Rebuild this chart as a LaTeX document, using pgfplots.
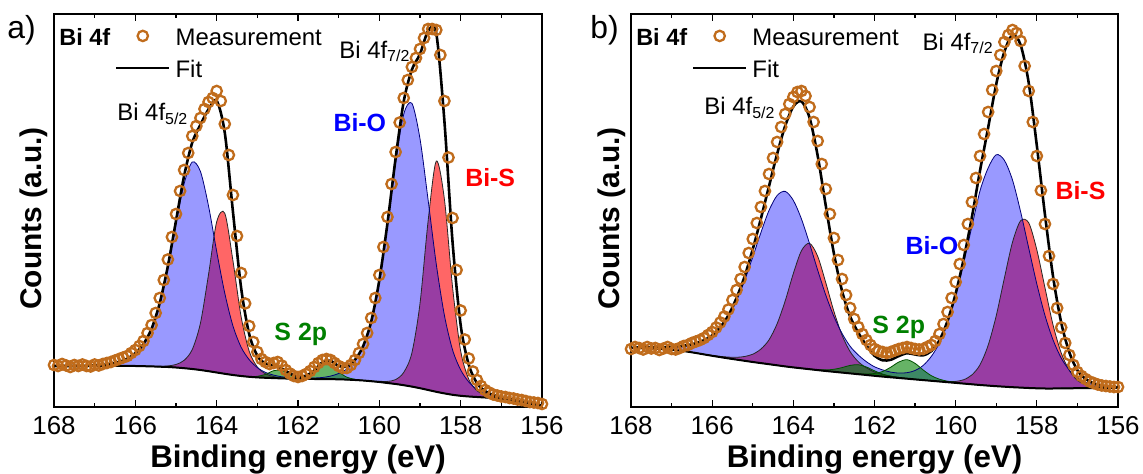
\documentclass[border=0pt]{standalone}
\usepackage{fontspec}
\setmainfont{Liberation Sans}
\usepackage{pgfplots}
\usepackage{pgfplotstable}
\pgfplotsset{compat=1.18}
\usepgfplotslibrary{fillbetween}

\definecolor{meascol}{RGB}{192,108,28}
\definecolor{bio}{RGB}{0,0,255}
\definecolor{bioedge}{RGB}{0,0,120}
\definecolor{bis}{RGB}{255,0,0}
\definecolor{stwo}{RGB}{0,128,0}
\definecolor{stwoedge}{RGB}{0,80,0}

% Sample a: background, components (each stacked on the background) and fit envelope
\pgfplotstableread{
E bg O S P1 P3 fit
168.0 41 41 41 41 41 41
167.8 41 41 41 41 41 41
167.6 41 41 41 41 41 41
167.4 41 41 41 41 41 41
167.2 41 41 41 41 41 41
167.0 41 41.8 41 41 41 41.8
166.8 41 42.1 41 41 41 42.1
166.6 41 43.3 41 41 41 43.3
166.4 41 45.1 41 41 41 45.1
166.2 41 48.3 41 41 41 48.3
166.0 41 53.9 41 41 41 53.9
165.8 40.8 63.1 40.8 40.8 40.8 63.1
165.6 40.6 78.2 40.7 40.6 40.6 78.3
165.4 40.3 103.7 40.6 40.3 40.3 104.0
165.2 40.0 139.8 41.1 40.0 40.0 140.9
165.0 39.5 183.2 42.5 39.5 39.5 186.2
164.8 38.8 223.3 46.7 38.8 38.8 231.2
164.6 38.0 245.0 57.5 38.0 38.0 264.5
164.4 37.0 235.6 83.7 37.0 37.0 282.3
164.2 35.8 201.0 132.5 35.8 35.8 297.7
164.0 34.5 155.6 185.1 34.5 34.5 306.2
163.8 33.2 113.7 193.7 33.2 33.2 274.2
163.6 32.0 81.1 146.3 32.0 32.0 195.4
163.4 31.0 59.9 90.6 31.0 31.0 119.5
163.2 30.2 47.3 55.8 30.2 30.2 72.9
163.0 29.6 39.4 40.0 30.7 29.6 51.3
162.8 29.2 34.6 33.2 32.6 29.2 43.4
162.6 28.9 31.9 30.4 36.3 28.9 41.8
162.4 28.6 30.2 29.0 36.6 28.6 38.6
162.2 28.4 29.4 28.4 32.6 28.4 33.6
162.0 28.2 28.7 28.2 29.6 28.2 30.1
161.8 28.1 28.6 28.1 28.5 30.5 31.4
161.6 28.0 29.0 28.0 28.0 35.5 36.5
161.4 27.9 29.5 27.9 27.9 43.2 44.8
161.2 27.8 30.9 27.8 27.8 43.1 46.2
161.0 27.7 33.5 27.7 27.7 35.2 41.0
160.8 27.4 37.9 27.4 27.4 29.8 40.3
160.6 27.0 46.4 27.0 27.0 27.7 47.1
160.4 26.5 60.7 26.5 26.5 26.5 60.7
160.2 25.8 85.4 25.8 25.8 25.8 85.4
160.0 25.0 126.2 25.7 25.0 25.0 126.9
159.8 24.0 182.2 25.6 24.0 24.0 183.8
159.6 23.0 244.2 27.4 23.0 23.0 248.6
159.4 21.8 292.8 34.6 21.8 21.8 305.6
159.2 20.4 303.7 54.0 20.4 20.4 337.3
159.0 18.8 268.2 103.5 18.8 18.8 352.9
158.8 17.0 206.8 186.2 17.0 17.0 376.0
158.6 15.2 142.9 245.9 15.2 15.2 373.6
158.4 13.6 91.7 207.8 13.6 13.6 285.9
158.2 12.2 57.2 120.1 12.2 12.2 165.1
158.0 11.2 37.1 56.0 11.2 11.2 81.9
157.8 10.5 25.0 27.7 10.5 10.5 42.2
157.6 10.0 17.7 16.3 10.0 10.0 24.0
157.4 9.5 13.8 11.6 9.5 9.5 15.9
157.2 9.0 11.2 9.8 9.0 9.0 12.0
157.0 8.3 9.6 8.3 8.3 8.3 9.6
156.8 7.3 7.9 7.3 7.3 7.3 7.9
156.6 6.0 6.3 6.0 6.0 6.0 6.3
156.4 4.6 4.6 4.6 4.6 4.6 4.6
156.2 3.0 3.0 3.0 3.0 3.0 3.0
156.0 1.5 1.5 1.5 1.5 1.5 1.5
}\fitA

\pgfplotstableread{
E meas
168.0 42
167.9 41
167.8 43
167.7 41.5
167.6 40
167.5 42
167.4 41
167.3 42.5
167.2 41
167.1 40.5
167.0 42.5
166.9 41.5
166.8 43
166.7 44
166.6 45
166.5 46.5
166.4 48
166.3 49.5
166.2 51
166.1 54
166.0 57
165.9 61
165.8 66
165.7 74
165.6 82
165.5 94
165.4 109
165.3 127
165.2 147.5
165.1 170
165.0 193
164.9 216
164.8 237
164.7 254
164.6 271
164.5 281
164.4 289
164.3 298
164.2 305
164.1 309
164.0 316
163.9 306
163.8 283
163.7 252
163.6 212
163.5 171
163.4 134
163.3 103.5
163.2 81
163.1 65
163.0 55
162.9 48
162.8 45
162.7 43
162.6 44
162.5 45
162.4 41.5
162.3 37
162.2 33.5
162.1 31
162.0 30
161.9 31
161.8 33
161.7 36
161.6 40
161.5 44
161.4 47
161.3 48
161.2 47
161.1 44
161.0 41
160.9 39
160.8 39
160.7 42
160.6 47
160.5 54
160.4 63
160.3 74
160.2 89
160.1 109
160.0 132
159.9 160
159.8 190
159.7 223
159.6 255
159.5 284.5
159.4 309
159.3 327
159.2 340
159.1 349
159.0 358
158.9 369
158.8 378
158.7 378
158.6 377
158.5 352
158.4 306
158.3 249.5
158.2 189
158.1 137
158.0 96.5
157.9 67.5
157.8 48.5
157.7 35.5
157.6 27
157.5 21
157.4 17
157.3 14.5
157.2 12.5
157.1 11.5
157.0 10.5
156.9 10
156.8 9
156.7 8.5
156.6 7.5
156.5 7
156.4 6
156.3 5
156.2 4.5
156.1 4
156.0 3
}\measA

% Sample b
\pgfplotstableread{
E bg O S P1 P3 fit
168.0 59 59 59 59 59 59
167.8 59 59.6 59 59 59 59.6
167.6 58.7 59.6 58.7 58.7 58.7 59.6
167.4 58.3 59.6 58.3 58.3 58.3 59.6
167.2 57.8 59.8 57.8 57.8 57.8 59.8
167.0 57.2 60.2 57.2 57.2 57.2 60.2
166.8 56.4 60.8 56.4 56.4 56.4 60.8
166.6 55.3 61.8 55.3 55.3 55.3 61.8
166.4 54.0 63.8 54.0 54.0 54.0 63.8
166.2 52.6 66.8 52.6 52.6 52.6 66.8
166.0 51.2 71.2 51.6 51.2 51.2 71.6
165.8 49.9 79.1 50.6 49.9 49.9 79.8
165.6 48.6 90.4 49.9 48.6 48.6 91.7
165.4 47.4 106.7 49.7 47.4 47.4 109.0
165.2 46.2 126.4 50.5 46.2 46.2 130.7
165.0 45.0 150.0 52.8 45.0 45.0 157.8
164.8 43.9 174.3 57.9 43.9 43.9 188.3
164.6 42.8 196.5 67.1 42.8 42.8 220.8
164.4 41.7 211.5 83.2 41.7 41.7 253.0
164.2 40.6 215.6 106.2 40.6 40.6 281.2
164.0 39.6 206.6 133.5 39.6 39.6 300.5
163.8 38.7 188.0 156.3 38.7 38.7 305.6
163.6 37.8 163.3 163.7 37.8 37.8 289.2
163.4 36.9 136.8 150.7 37.4 36.9 251.2
163.2 36.0 111.8 124.2 37.1 36.0 201.1
163.0 35.2 90.5 95.6 37.7 35.2 153.4
162.8 34.4 73.6 71.8 39.4 34.4 116.0
162.6 33.6 60.7 55.3 41.6 33.6 90.4
162.4 32.8 52.0 45.3 42.3 33.2 74.4
162.2 32.0 45.3 39.2 40.0 33.0 61.5
162.0 31.2 40.2 35.0 36.2 33.5 51.3
161.8 30.4 37.1 32.4 32.9 35.5 46.7
161.6 29.7 34.9 30.8 30.8 39.8 47.2
161.4 29.0 33.9 29.6 29.5 45.0 51.0
161.2 28.3 34.3 28.6 28.5 47.3 53.8
161.0 27.6 36.5 27.6 27.6 43.6 52.5
160.8 26.9 41.6 26.9 26.9 37.0 51.7
160.6 26.2 50.6 26.4 26.2 31.3 55.9
160.4 25.5 64.0 25.8 25.5 27.8 66.6
160.2 24.8 84.4 25.5 24.8 25.8 86.1
160.0 24.1 111.6 25.6 24.1 24.5 113.5
159.8 23.4 144.7 27.3 23.4 23.4 148.6
159.6 22.7 180.5 32.1 22.7 22.7 189.9
159.4 22.0 216.2 42.2 22.0 22.0 236.4
159.2 21.4 239.0 61.7 21.4 21.4 279.3
159.0 20.8 252.3 91.4 20.8 20.8 322.9
158.8 20.3 246.7 128.9 20.3 20.3 355.3
158.6 19.8 227.0 164.8 19.8 19.8 372.0
158.4 19.4 195.3 186.2 19.4 19.4 362.1
158.2 19.0 158.9 184.2 19.0 19.0 324.1
158.0 18.7 122.9 157.1 18.7 18.7 261.3
157.8 18.5 91.6 119.3 18.5 18.5 192.4
157.6 18.5 67.0 81.9 18.5 18.5 130.4
157.4 18.6 49.0 54.1 18.6 18.6 84.5
157.2 18.7 36.8 36.6 18.7 18.7 54.7
157.0 18.8 29.0 26.5 18.8 18.8 36.7
156.8 18.9 24.7 22.3 18.9 18.9 28.1
156.6 19.0 22.2 20.4 19.0 19.0 23.6
156.4 19.1 20.7 19.6 19.1 19.1 21.2
156.2 19.2 20.1 19.2 19.2 19.2 20.1
156.0 19.3 19.7 19.3 19.3 19.3 19.7
}\fitB

\pgfplotstableread{
E meas
168.0 58
167.9 60
167.8 59
167.7 57.5
167.6 60
167.5 58.5
167.4 59
167.3 57
167.2 58.5
167.1 60
167.0 58
166.9 57.5
166.8 59
166.7 61
166.6 62
166.5 64
166.4 65.5
166.3 67
166.2 69
166.1 72
166.0 75
165.9 79.5
165.8 84.5
165.7 90.5
165.6 97.5
165.5 107
165.4 117
165.3 128
165.2 140
165.1 154
165.0 168
164.9 184
164.8 200
164.7 216
164.6 233
164.5 249
164.4 265
164.3 280
164.2 293
164.1 303
164.0 310
163.9 315
163.8 316
163.7 311
163.6 300
163.5 285
163.4 266
163.3 243
163.2 218
163.1 193
163.0 169
162.9 147
162.8 128
162.7 112
162.6 99
162.5 88
162.4 80
162.3 73
162.2 67
162.1 62
162.0 58
161.9 56
161.8 55
161.7 54
161.6 55
161.5 56.5
161.4 58
161.3 59
161.2 60
161.1 59
161.0 58
160.9 57.5
160.8 58
160.7 60
160.6 62
160.5 66
160.4 73
160.3 83
160.2 95
160.1 109
160.0 125
159.9 143
159.8 162
159.7 183
159.6 205
159.5 229
159.4 251
159.3 273
159.2 295
159.1 317
159.0 336
158.9 352
158.8 365
158.7 372
158.6 377
158.5 374
158.4 366
158.3 341
158.2 316
158.1 285
158.0 251
157.9 216.5
157.8 183
157.7 151
157.6 123
157.5 99
157.4 79.5
157.3 64
157.2 52
157.1 42
157.0 35
156.9 31
156.8 28
156.7 25.5
156.6 24
156.5 22.5
156.4 21.5
156.3 21
156.2 20.5
156.1 20
156.0 20
}\measB

\pgfplotsset{
  xps/.style={
    scale only axis, height=196.5bp, anchor=south west,
    x dir=reverse, xmin=156, xmax=168, ymin=0, ymax=393,
    xtick={156,158,160,162,164,166,168}, minor x tick num=1,
    ytick=\empty,
    tick align=inside, major tick length=3.5bp, minor tick length=2bp,
    tick style={black, line width=0.6bp},
    axis line style={line width=0.6bp},
    /pgf/number format/assume math mode=true,
    xticklabel style={font=\fontsize{13}{15}\selectfont, yshift=-1.4bp},
    xlabel={Binding energy (eV)},
    xlabel style={at={(axis description cs:0.5,0)}, anchor=base, yshift=-30.3bp,
      font=\bfseries\fontsize{15.7}{18}\selectfont},
    ylabel={Counts (a.u.)},
    ylabel style={at={(axis description cs:-0.0246,0.48)}, anchor=base,
      font=\bfseries\fontsize{15}{18}\selectfont},
    legend cell align=left,
    legend style={draw=none, fill=none, at={(axis description cs:0.125,0.962)},
      anchor=north west, inner sep=0pt, outer sep=0pt, row sep=6bp,
      font=\fontsize{12}{14}\selectfont, nodes={inner sep=0pt},
      /tikz/every odd column/.append style={column sep=2.5bp}},
  },
  edge/.style={smooth, line width=0.4bp, forget plot},
  hidden/.style={smooth, draw=none, forget plot},
  measlegend/.style={legend image code/.code={%
      \path[draw=none, fill=none] (0bp,-2bp) rectangle (26.5bp,5bp);
      \draw[mark repeat=2,mark phase=2,##1]
      plot coordinates {(0bp,1.5bp) (13.25bp,1.5bp) (26.5bp,1.5bp)};}},
  fitlegend/.style={legend image code/.code={%
      \path[draw=none, fill=none] (0bp,-2bp) rectangle (26.5bp,5bp);
      \draw[##1] (0bp,1.5bp) -- (26.5bp,1.5bp);}},
}
\tikzset{
  lbl/.style={anchor=base west, inner sep=0pt, font=\fontsize{12}{14}\selectfont},
  blbl/.style={anchor=base west, inner sep=0pt, font=\bfseries\fontsize{12.5}{14}\selectfont},
}

\newcommand{\xpspanel}[2]{%
  \addplot[hidden, name path=bg] table[x=E,y=bg]{#1};
  \addplot[hidden, name path=cS] table[x=E,y=S]{#1};
  \addplot[hidden, name path=cO] table[x=E,y=O]{#1};
  \addplot[hidden, name path=cPa] table[x=E,y=P1]{#1};
  \addplot[hidden, name path=cPb] table[x=E,y=P3]{#1};
  \addplot[fill=bis, fill opacity=0.6, draw=none, forget plot] fill between[of=cS and bg];
  \addplot[fill=bio, fill opacity=0.4, draw=none, forget plot] fill between[of=cO and bg];
  \addplot[fill=stwo, fill opacity=0.6, draw=none, forget plot] fill between[of=cPa and bg];
  \addplot[fill=stwo, fill opacity=0.6, draw=none, forget plot] fill between[of=cPb and bg];
  \addplot[edge, draw=black!85] table[x=E,y=S]{#1};
  \addplot[edge, draw=bioedge] table[x=E,y=O]{#1};
  \addplot[edge, draw=stwoedge] table[x=E,y=P1]{#1};
  \addplot[edge, draw=stwoedge] table[x=E,y=P3]{#1};
  \addplot[smooth, black, line width=1bp, forget plot] table[x=E,y=bg]{#1};
  \addplot[only marks, mark=o, mark size=2.6bp, color=meascol,
    mark options={line width=1.15bp}, measlegend] table[x=E,y=meas]{#2};
  \addlegendentry{Measurement}
  \addplot[smooth, black, line width=1.3bp, fitlegend] table[x=E,y=fit]{#1};
  \addlegendentry{Fit}
}

\begin{document}
\begin{tikzpicture}
\begin{axis}[xps, at={(27bp,33.5bp)}, width=244bp]
  \xpspanel{\fitA}{\measA}
  \node[blbl, font=\bfseries\fontsize{11.8}{14}\selectfont] at (axis description cs:0.010,0.921) {Bi 4f};
  \node[lbl] at (axis description cs:0.584,0.888) {Bi 4f\textsubscript{7/2}};
  \node[lbl] at (axis description cs:0.129,0.728) {Bi 4f\textsubscript{5/2}};
  \node[blbl, text=bio] at (axis description cs:0.572,0.700) {Bi-O};
  \node[blbl, text=bis] at (axis description cs:0.842,0.560) {Bi-S};
  \node[blbl, text=stwo] at (axis description cs:0.451,0.170) {S 2p};
\end{axis}

\begin{axis}[xps, at={(315.5bp,33.5bp)}, width=243.5bp]
  \xpspanel{\fitB}{\measB}
  \node[blbl, font=\bfseries\fontsize{11.8}{14}\selectfont] at (axis description cs:0.010,0.921) {Bi 4f};
  \node[lbl] at (axis description cs:0.598,0.908) {Bi 4f\textsubscript{7/2}};
  \node[lbl] at (axis description cs:0.150,0.743) {Bi 4f\textsubscript{5/2}};
  \node[blbl, text=bio] at (axis description cs:0.563,0.387) {Bi-O};
  \node[blbl, text=bis] at (axis description cs:0.871,0.527) {Bi-S};
  \node[blbl, text=stwo] at (axis description cs:0.495,0.188) {S 2p};
\end{axis}

\node[anchor=base west, inner sep=0pt, font=\fontsize{16}{18}\selectfont] at (3.5bp,217.5bp) {a)};
\node[anchor=base west, inner sep=0pt, font=\fontsize{16}{18}\selectfont] at (295bp,217.5bp) {b)};

\pgfresetboundingbox
\path[use as bounding box] (0,0) rectangle (571.5bp,237bp);
\end{tikzpicture}
\end{document}
